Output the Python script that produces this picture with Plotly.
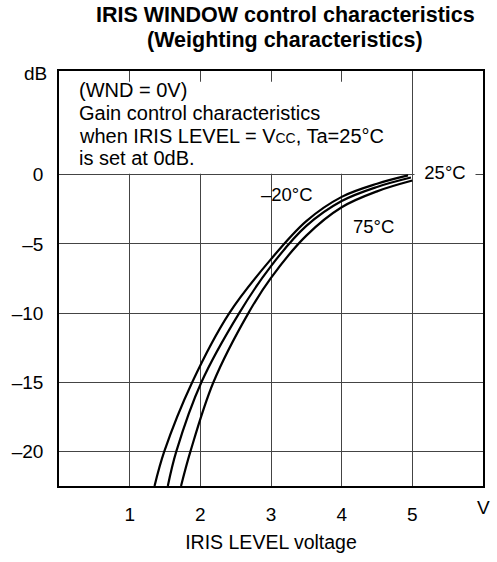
import plotly.graph_objects as go

# Data
x_ticks = [1, 2, 3, 4, 5]
x_tick_labels = ["1", "2", "3", "4", "5"]
y_ticks = [0, -5, -10, -15, -20]
y_tick_labels = ["0", "–5", "–10", "–15", "–20"]

x_m20 = [1.352, 1.49, 1.885, 2.41, 3.0, 3.5, 4.0, 4.5, 4.94]
y_m20 = [-22.5, -20, -15, -10, -6.1, -3.35, -1.6, -0.65, -0.05]

x_25 = [1.54, 1.66, 2.015, 2.55, 3.0, 3.5, 4.0, 4.5, 4.98]
y_25 = [-22.5, -20, -15, -10, -6.6, -3.7, -1.9, -0.88, -0.2]

x_75 = [1.727, 1.86, 2.185, 2.68, 3.0, 3.5, 4.0, 4.5, 5.0]
y_75 = [-22.5, -20, -15, -10, -7.45, -4.4, -2.35, -1.2, -0.42]

curve_labels = ["–20°C", "25°C", "75°C"]
note_lines = [
    "(WND = 0V)",
    "Gain control characteristics",
    "when IRIS LEVEL = V<span style='font-size:14px'>CC</span>, Ta=25°C",
    "is set at 0dB.",
]
title_lines = ["IRIS WINDOW control characteristics", "(Weighting characteristics)"]

FONT = "Arial, Liberation Sans, Helvetica, sans-serif"
W, H = 497, 562
ML, MR, MT, MB = 57, 13, 71, 66
PW, PH = W - ML - MR, H - MT - MB


def px_to_paper(px, py):
    return (px - ML) / PW, (H - py - MB) / PH


fig = go.Figure()
for xs, ys in [(x_m20, y_m20), (x_25, y_25), (x_75, y_75)]:
    fig.add_trace(go.Scatter(x=xs, y=ys, mode="lines",
                             line=dict(color="black", width=2.2, shape="spline", smoothing=1.0),
                             showlegend=False, hoverinfo="skip"))

fig.update_layout(
    width=W, height=H,
    margin=dict(l=ML, r=MR, t=MT, b=MB),
    paper_bgcolor="white", plot_bgcolor="white",
    font=dict(family=FONT, size=20, color="black"),
    showlegend=False,
)
fig.update_xaxes(range=[0, 6], tickvals=x_ticks, ticktext=x_tick_labels,
                 showgrid=True, gridcolor="#444", gridwidth=1,
                 showline=True, linecolor="black", linewidth=1.5, mirror=True,
                 ticks="", ticklabelstandoff=10, zeroline=False,
                 tickfont=dict(size=19),
                 title=dict(text="IRIS LEVEL voltage", standoff=12, font=dict(size=19.5)))
fig.update_yaxes(range=[-22.5, 7.5], tickvals=y_ticks, ticktext=y_tick_labels,
                 showgrid=True, gridcolor="#444", gridwidth=1,
                 showline=True, linecolor="black", linewidth=1.5, mirror=True,
                 ticks="", ticklabelstandoff=10, zeroline=False,
                 tickfont=dict(size=19))

# white box behind the note text, covering gridlines
fig.add_shape(type="rect", xref="x", yref="y", x0=0.02, x1=4.6, y0=0.08, y1=6.72,
              fillcolor="white", line=dict(width=0), layer="between")

note_y = [6.15, 4.46, 2.77, 1.22]
for txt, yy in zip(note_lines, note_y):
    fig.add_annotation(x=0.25, y=yy, xref="x", yref="y", text=txt, showarrow=False,
                       xanchor="left", yanchor="middle", font=dict(size=20))

# curve labels
fig.add_annotation(x=3.22, y=-1.42, xref="x", yref="y", text=curve_labels[0],
                   showarrow=False, font=dict(size=18.5), xanchor="center", yanchor="middle")
fig.add_annotation(x=5.46, y=0.2, xref="x", yref="y", text=curve_labels[1],
                   showarrow=False, font=dict(size=18.5), bgcolor="white", width=58, height=16,
                   xanchor="center", yanchor="middle")
fig.add_annotation(x=4.45, y=-3.77, xref="x", yref="y", text=curve_labels[2],
                   showarrow=False, font=dict(size=18.5), xanchor="center", yanchor="middle")

# title lines
for txt, py in zip(title_lines, [14, 39]):
    ax, ay = px_to_paper(285, py)
    fig.add_annotation(x=ax, y=ay, xref="paper", yref="paper", text="<b>" + txt + "</b>",
                       showarrow=False, font=dict(size=21.5), xanchor="center", yanchor="middle")

# unit labels
ax, ay = px_to_paper(33, 74)
fig.add_annotation(x=ax, y=ay, xref="paper", yref="paper", text="dB", showarrow=False,
                   font=dict(size=19), xanchor="center", yanchor="middle")
ax, ay = px_to_paper(485, 518)
fig.add_annotation(x=ax, y=ay, xref="paper", yref="paper", text="V", showarrow=False,
                   font=dict(size=19), xanchor="center", yanchor="middle")

fig.write_html("out.html", config={"displayModeBar": False},
               post_script="document.body.style.margin='0px';")
